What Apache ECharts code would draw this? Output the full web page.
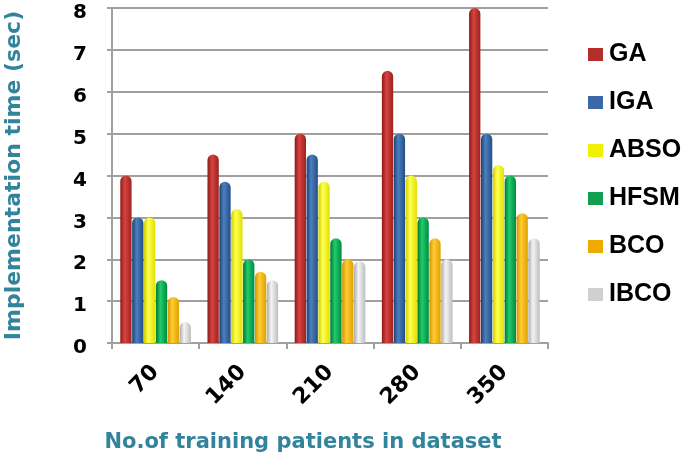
<!DOCTYPE html>
<html>
<head>
<meta charset="utf-8">
<script src="https://cdn.jsdelivr.net/npm/echarts@6/dist/echarts.min.js"></script>
<style>html,body{margin:0;padding:0;background:#fff}#c{width:688px;height:459px}</style>
</head>
<body>
<div id="c"></div>
<script>
const categories = ['70', '140', '210', '280', '350'];
const seriesNames = ['GA', 'IGA', 'ABSO', 'HFSM', 'BCO', 'IBCO'];
const GA   = [4.0, 4.5, 5.0, 6.5, 8.0];
const IGA  = [3.0, 3.85, 4.5, 5.0, 5.0];
const ABSO = [3.0, 3.2, 3.85, 4.0, 4.25];
const HFSM = [1.5, 2.0, 2.5, 3.0, 4.0];
const BCO  = [1.1, 1.7, 2.0, 2.5, 3.1];
const IBCO = [0.5, 1.5, 1.95, 2.0, 2.5];
const yTicks = [0, 1, 2, 3, 4, 5, 6, 7, 8];

const values = [GA, IGA, ABSO, HFSM, BCO, IBCO];
const palette = [
  ['#8A1A18', '#D8443F', '#9A2220'],
  ['#1C4273', '#4C7FBE', '#234E86'],
  ['#D0D000', '#FFFF50', '#E0E000'],
  ['#007535', '#22CC6A', '#008A40'],
  ['#D49400', '#FFCC33', '#E0A000'],
  ['#ABABAB', '#F4F4F4', '#BDBDBD']
];
const legendColors = ['#B52E2C', '#3A68A8', '#F0F000', '#10A050', '#EEAA00', '#D0D0D0'];

function grad(c) {
  return new echarts.graphic.LinearGradient(0, 0, 1, 0, [
    {offset: 0, color: c[0]}, {offset: 0.4, color: c[1]}, {offset: 1, color: c[2]}
  ]);
}

const series = seriesNames.map((n, i) => ({
  name: n,
  type: 'bar',
  data: values[i],
  barGap: '5%',
  barCategoryGap: '19%',
  itemStyle: { color: grad(palette[i]), borderRadius: [6, 6, 0, 0] }
}));

const FONT = 'DejaVu Sans';
const chart = echarts.init(document.getElementById('c'));
chart.setOption({
  animation: false,
  backgroundColor: '#fff',
  grid: { left: 112, right: 140, top: 8, bottom: 116, outerBoundsMode: 'none', containLabel: false },
  legend: {
    orient: 'vertical',
    left: 588,
    top: 42,
    padding: 0,
    itemWidth: 15,
    itemHeight: 13,
    itemGap: 23,
    icon: 'rect',
    data: seriesNames.map((n, i) => ({ name: n, itemStyle: { color: legendColors[i] } })),
    textStyle: { fontFamily: 'Liberation Sans', fontWeight: 'bold', fontSize: 25, color: '#000', padding: [0, 0, 0, 1] }
  },
  xAxis: {
    type: 'category',
    data: categories,
    name: 'No.of training patients in dataset',
    nameLocation: 'middle',
    nameGap: 89,
    nameTextStyle: { fontFamily: FONT, fontWeight: 'bold', fontSize: 21, color: '#31849B', padding: [0, 54, 0, 0] },
    axisLine: { lineStyle: { color: '#A0A0A0', width: 2 } },
    axisTick: { show: true, length: 6, lineStyle: { color: '#A0A0A0', width: 2 } },
    axisLabel: { rotate: 45, margin: 26, fontFamily: FONT, fontWeight: 'bold', fontSize: 22, color: '#000' }
  },
  yAxis: {
    type: 'value',
    min: 0,
    max: 8,
    interval: 1,
    name: 'Implementation time (sec)',
    nameLocation: 'middle',
    nameGap: 87,
    nameTextStyle: { fontFamily: FONT, fontWeight: 'bold', fontSize: 22, color: '#31849B' },
    axisLine: { show: true, lineStyle: { color: '#A0A0A0', width: 2 } },
    axisTick: { show: true, length: 5, lineStyle: { color: '#A0A0A0', width: 2 } },
    splitLine: { lineStyle: { color: '#A0A0A0', width: 2 } },
    axisLabel: {
      margin: 25, verticalAlign: 'top', lineHeight: 10, fontFamily: FONT, fontWeight: 'bold', fontSize: 20, color: '#000',
      formatter: v => yTicks.includes(v) ? String(v) : ''
    }
  },
  series: series
});
</script>
</body>
</html>
